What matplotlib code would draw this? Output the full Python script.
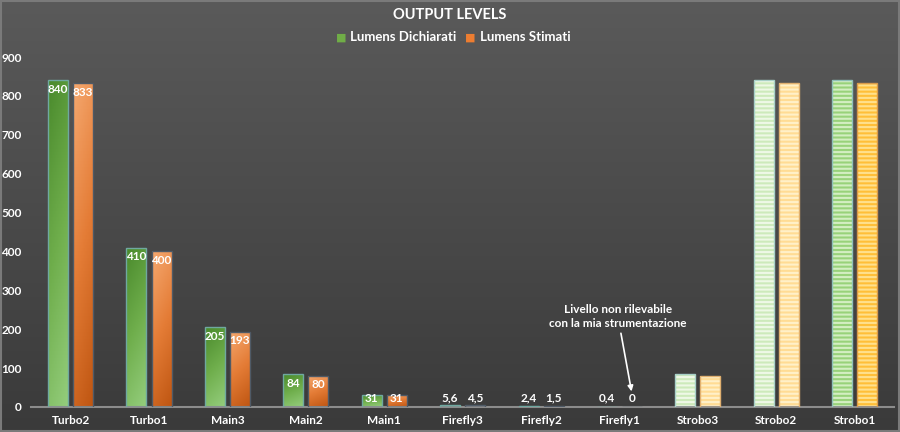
import numpy as np
import matplotlib
matplotlib.use('Agg')
import matplotlib.pyplot as plt
from matplotlib.colors import LinearSegmentedColormap

plt.rcParams['font.family'] = ['Lato', 'DejaVu Sans']
plt.rcParams['hatch.linewidth'] = 1.5

categories = ['Turbo2', 'Turbo1', 'Main3', 'Main2', 'Main1', 'Firefly3',
              'Firefly2', 'Firefly1', 'Strobo3', 'Strobo2', 'Strobo1']
dichiarati = [840, 410, 205, 84, 31, 5.6, 2.4, 0.4, 84, 840, 840]
stimati = [833, 400, 193, 80, 31, 4.5, 1.5, 0, 80, 833, 833]
lab_dich = ['840', '410', '205', '84', '31', '5,6', '2,4', '0,4', '', '', '']
lab_stim = ['833', '400', '193', '80', '31', '4,5', '1,5', '0', '', '', '']

fig = plt.figure(figsize=(9, 4.32), dpi=100)

# background gradient
bg = fig.add_axes([0, 0, 1, 1], zorder=-10)
grad = np.linspace(0, 1, 256).reshape(-1, 1)
bg_cmap = LinearSegmentedColormap.from_list('bg', ['#5a5a5a', '#3a3a3a'])
bg.imshow(grad, aspect='auto', cmap=bg_cmap, extent=[0, 1, 0, 1], origin='upper')
bg.set_xlim(0, 1)
bg.set_ylim(0, 1)
bg.axis('off')
bg.add_patch(plt.Rectangle((0.001, 0.002), 0.998, 0.996, fill=False,
                           edgecolor='#7a7a7a', lw=1.5))

ax = fig.add_axes([0.0348, 0.0579, 0.9585, 0.810])
ax.set_facecolor('none')

x = np.arange(len(categories))
w = 0.255
off = 0.16

green_cmap = LinearSegmentedColormap.from_list('g', ['#4a8a2c', '#6fae4c', '#94cd7c'])
orange_cmap = LinearSegmentedColormap.from_list('o', ['#f5a86f', '#e47c36', '#bf5612'])


def grad_bar(xc, h, cmap, edge):
    bar = ax.bar(xc, h, w, color='none', edgecolor=edge, lw=1, zorder=3)[0]
    if h <= 0:
        return
    g = np.linspace(0, 1, 100).reshape(-1, 1) + np.linspace(0, 0.25, 20).reshape(1, -1)
    im = ax.imshow(g, cmap=cmap, aspect='auto', origin='upper',
                   extent=[xc - w / 2, xc + w / 2, 0, h], zorder=2,
                   vmin=0, vmax=1.25)
    im.set_clip_path(bar)


def striped_bar(xc, h, face, stripe, edge):
    ax.bar(xc, h, w, color=face, edgecolor=stripe, hatch='----', lw=0, zorder=2)
    ax.bar(xc, h, w, color='none', edgecolor=edge, lw=1, zorder=3)


for i in range(len(categories)):
    if categories[i].startswith('Strobo'):
        if categories[i] == 'Strobo1':
            striped_bar(x[i] - off, dichiarati[i], '#98d27a', '#d3eec2', '#8ec0b8')
            striped_bar(x[i] + off, stimati[i], '#ffbf38', '#ffe08c', '#d89a4a')
        else:
            striped_bar(x[i] - off, dichiarati[i], '#cdeabb', '#eef8e6', '#a8d0c8')
            striped_bar(x[i] + off, stimati[i], '#ffdc94', '#fff0c8', '#e0b070')
    else:
        grad_bar(x[i] - off, dichiarati[i], green_cmap, '#6fa8a0')
        grad_bar(x[i] + off, stimati[i], orange_cmap, '#4f5a66')
    if lab_dich[i]:
        ax.text(x[i] - off, max(dichiarati[i] - 23, 23), lab_dich[i], ha='center',
                va='center', color='white', fontsize=8.5, fontweight='bold', zorder=5)
    if lab_stim[i]:
        ax.text(x[i] + off, max(stimati[i] - 23, 23), lab_stim[i], ha='center',
                va='center', color='white', fontsize=8.5, fontweight='bold', zorder=5)

ax.set_xlim(-0.5, len(categories) - 0.5)
ax.set_ylim(0, 900)
ax.set_yticks(np.arange(0, 901, 100))
ax.set_xticks(x)
ax.set_xticklabels(categories)
for s in ['top', 'right', 'left']:
    ax.spines[s].set_visible(False)
ax.spines['bottom'].set_color('#8c8c8c')
ax.spines['bottom'].set_linewidth(1.5)
ax.tick_params(length=0, colors='white', labelsize=8.5)
ax.tick_params(axis='y', pad=7)
ax.tick_params(axis='x', pad=6)
for t in ax.get_xticklabels() + ax.get_yticklabels():
    t.set_fontweight('bold')

# annotation
ax.annotate('Livello non rilevabile\ncon la mia strumentazione',
            xy=(7 + off, 33), xytext=(7 - 0.02, 232),
            ha='center', va='center', color='white', fontsize=8.5,
            fontweight='bold', linespacing=1.3,
            arrowprops=dict(arrowstyle='-|>', color='white', lw=1.2,
                            shrinkA=1, shrinkB=2, mutation_scale=8))

fig.text(0.5, 0.965, 'OUTPUT LEVELS', ha='center', va='center', color='white',
         fontsize=10.5, fontweight='bold')
fig.text(0.379, 0.914, '■', ha='center', va='center', color='#70ad47', fontsize=8)
fig.text(0.389, 0.914, 'Lumens Dichiarati', ha='left', va='center', color='white',
         fontsize=9.5, fontweight='bold')
fig.text(0.523, 0.914, '■', ha='center', va='center', color='#ed7d31', fontsize=8)
fig.text(0.533, 0.914, 'Lumens Stimati', ha='left', va='center', color='white',
         fontsize=9.5, fontweight='bold')

plt.savefig('out.png', dpi=100)
